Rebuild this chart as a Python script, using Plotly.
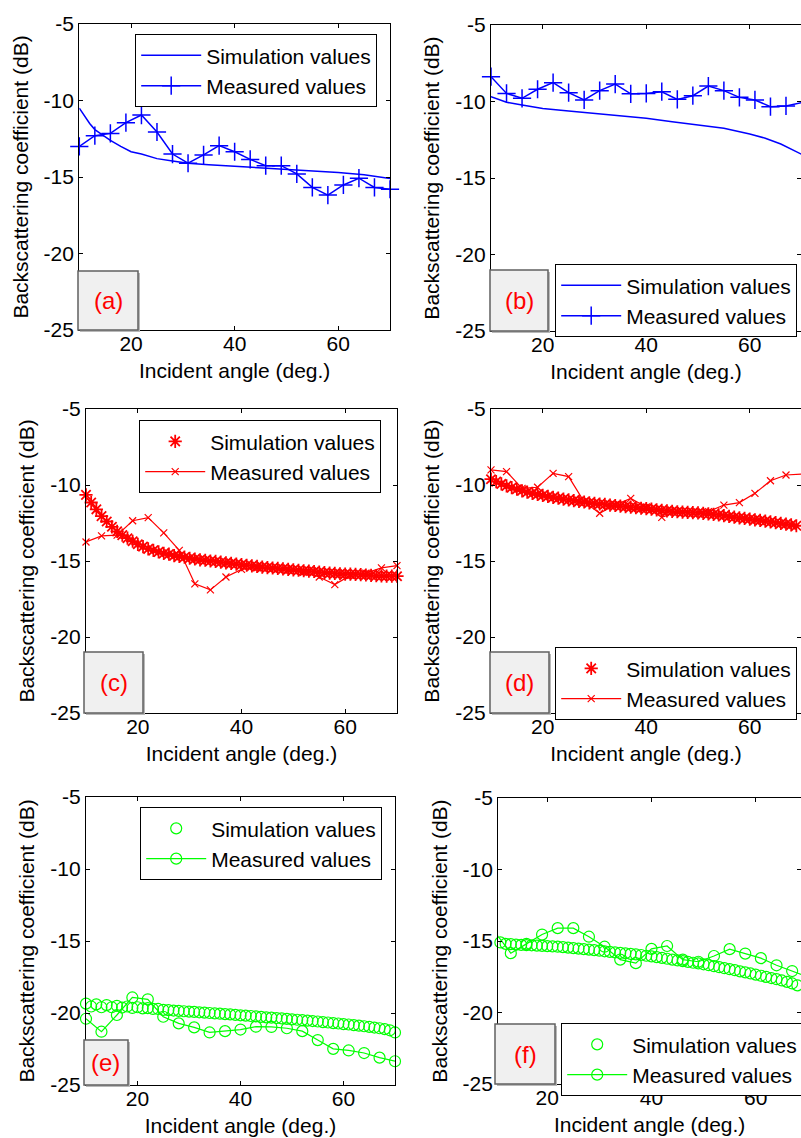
import plotly.graph_objects as go

W, H = 801, 1138
FONT = "Arial, Liberation Sans, sans-serif"

# ---------------- data ----------------
x_ticks = [20, 40, 60]
y_ticks = [-25, -20, -15, -10, -5]
y_tick_text = ["-25", "-20", "-15", "-10", "-5"]

meas_angle = [10, 13, 16, 19, 22, 25, 28, 31, 34, 37, 40, 43, 46, 49, 52, 55, 58, 61, 64, 67, 70]
sim_angle = list(range(10, 71))

a_sim_angle = [10, 11, 12, 13, 14, 15, 16, 18, 20, 22, 25, 28, 31, 35, 40, 45, 50, 55, 60, 65, 70]
a_sim = [-10.5, -11.0, -11.5, -11.9, -12.15, -12.4, -12.6, -13.0, -13.35, -13.5, -13.8, -13.95,
         -14.1, -14.2, -14.3, -14.4, -14.5, -14.6, -14.7, -14.85, -15.1]
a_meas = [-13.0, -12.3, -12.15, -11.45, -10.95, -12.06, -13.5, -14.1, -13.56, -12.95, -13.35,
          -13.85, -14.26, -14.26, -14.8, -15.68, -16.18, -15.52, -15.08, -15.68, -15.8]

b_sim_angle = [10, 13, 16, 20, 25, 30, 35, 40, 45, 50, 55, 60, 63, 66, 70]
b_sim = [-9.68, -10.05, -10.23, -10.45, -10.62, -10.77, -10.93, -11.1, -11.32, -11.54, -11.75,
         -12.12, -12.4, -12.78, -13.45]
b_meas = [-8.38, -9.47, -9.79, -9.2, -8.77, -9.42, -9.9, -9.29, -8.86, -9.5, -9.47, -9.36,
          -9.86, -9.62, -8.99, -9.29, -9.73, -9.9, -10.34, -10.29, -10.08]

c_sim = [-10.65, -11.15, -11.6, -12.05, -12.4, -12.75, -13.05, -13.3, -13.5, -13.7, -13.9,
         -14.05, -14.2, -14.3, -14.4, -14.5, -14.55, -14.65, -14.7, -14.75, -14.82, -14.87,
         -14.92, -14.95, -15.0, -15.03, -15.08, -15.12, -15.16, -15.2, -15.24, -15.28, -15.32,
         -15.36, -15.4, -15.43, -15.46, -15.49, -15.52, -15.55, -15.58, -15.61, -15.64, -15.66,
         -15.69, -15.73, -15.77, -15.8, -15.82, -15.84, -15.86, -15.87, -15.88, -15.9, -15.92,
         -15.94, -15.97, -15.98, -15.99, -16.0, -16.0]
c_meas = [-13.75, -13.35, -13.3, -12.35, -12.15, -13.15, -14.3, -16.5, -16.9, -16.05, -15.55,
          -15.45, -15.5, -15.6, -15.75, -16.05, -16.55, -15.95, -15.8, -15.45, -15.3]

d_sim = [-9.62, -9.78, -9.93, -10.06, -10.17, -10.28, -10.38, -10.47, -10.55, -10.62, -10.68,
         -10.75, -10.81, -10.87, -10.93, -10.98, -11.03, -11.08, -11.12, -11.17, -11.21, -11.25,
         -11.28, -11.32, -11.35, -11.39, -11.42, -11.46, -11.49, -11.53, -11.56, -11.59, -11.63,
         -11.66, -11.7, -11.73, -11.76, -11.78, -11.8, -11.82, -11.84, -11.87, -11.9, -11.93,
         -11.97, -12.02, -12.07, -12.12, -12.16, -12.2, -12.24, -12.29, -12.33, -12.38, -12.43,
         -12.48, -12.53, -12.57, -12.62, -12.68, -12.74]
d_meas = [-9.0, -9.12, -10.22, -10.15, -9.23, -9.45, -11.1, -11.86, -11.3, -10.88, -11.45,
          -12.13, -11.75, -11.8, -11.75, -11.32, -11.16, -10.55, -9.72, -9.34, -9.28]

e_sim = [-19.35, -19.55, -19.4, -19.6, -19.45, -19.6, -19.5, -19.62, -19.55, -19.65, -19.6,
         -19.68, -19.66, -19.72, -19.72, -19.78, -19.8, -19.83, -19.85, -19.88, -19.9, -19.92,
         -19.95, -19.97, -20.0, -20.03, -20.05, -20.08, -20.1, -20.13, -20.16, -20.18, -20.21,
         -20.24, -20.27, -20.3, -20.32, -20.35, -20.38, -20.41, -20.44, -20.47, -20.5, -20.53,
         -20.56, -20.59, -20.63, -20.66, -20.7, -20.73, -20.77, -20.8, -20.84, -20.88, -20.92,
         -20.96, -21.01, -21.06, -21.12, -21.2, -21.35]
e_meas = [-20.4, -21.3, -20.14, -18.92, -19.05, -20.26, -20.72, -21.0, -21.35, -21.26, -21.15,
          -20.95, -20.97, -21.06, -21.26, -21.88, -22.49, -22.6, -22.78, -23.1, -23.35]

f_sim = [-15.0, -15.1, -15.2, -15.22, -15.25, -15.27, -15.29, -15.3, -15.32, -15.34, -15.36,
         -15.38, -15.4, -15.43, -15.46, -15.5, -15.53, -15.57, -15.6, -15.64, -15.68, -15.72,
         -15.76, -15.8, -15.83, -15.86, -15.9, -15.94, -15.98, -16.03, -16.08, -16.13, -16.18,
         -16.24, -16.3, -16.36, -16.41, -16.46, -16.52, -16.57, -16.63, -16.69, -16.76, -16.83,
         -16.9, -16.97, -17.04, -17.12, -17.19, -17.27, -17.35, -17.43, -17.51, -17.59, -17.67,
         -17.76, -17.86, -17.97, -18.1, -18.25, -18.4]
f_meas = [-14.4, -15.85, -15.2, -14.55, -14.1, -14.1, -14.7, -15.4, -16.3, -16.55, -15.55,
          -15.35, -16.3, -16.45, -16.05, -15.57, -15.88, -16.2, -16.7, -17.1, -17.5]

panel_labels = ["(a)", "(b)", "(c)", "(d)", "(e)", "(f)"]
sim_name = "Simulation values"
meas_name = "Measured values"
x_title = "Incident angle (deg.)"
y_title = "Backscattering coefficient (dB)"

# ---------------- layout geometry (pixels) ----------------
panels = [
    dict(dx=(79.3, 390), dy=(24, 330), rng=(10, 70), leg=(135, 34), box=(78, 271, 138, 330)),
    dict(dx=(491, 801), dy=(25, 331), rng=(10, 69.9), leg=(555, 264), box=(490, 270, 548, 331)),
    dict(dx=(86, 397), dy=(409, 713), rng=(10, 70), leg=(139, 420), box=(84, 652, 143, 713)),
    dict(dx=(491, 801), dy=(409, 713), rng=(10, 69.9), leg=(555, 647), box=(490, 652, 549, 713)),
    dict(dx=(86, 395), dy=(797, 1085), rng=(10, 70), leg=(140, 807), box=(84, 1040, 128, 1085)),
    dict(dx=(498.3, 801), dy=(798, 1084), rng=(10.6, 68.7), leg=(561, 1023), box=(495, 1024, 555, 1084)),
]

BLUE, RED, GREEN = "#0000ff", "#ff0000", "#00ff00"
series = [
    (a_sim_angle, a_sim, a_meas, BLUE, "a"),
    (b_sim_angle, b_sim, b_meas, BLUE, "a"),
    (sim_angle, c_sim, c_meas, RED, "c"),
    (sim_angle, d_sim, d_meas, RED, "c"),
    (sim_angle, e_sim, e_meas, GREEN, "e"),
    (sim_angle, f_sim, f_meas, GREEN, "e"),
]

fig = go.Figure()
layout = dict(
    width=W, height=H,
    margin=dict(l=0, r=0, t=0, b=0, autoexpand=False),
    paper_bgcolor="white", plot_bgcolor="white",
    font=dict(family=FONT, color="black", size=21),
    showlegend=True,
)
shapes = []
annotations = []

for i, (p, s) in enumerate(zip(panels, series)):
    n = "" if i == 0 else str(i + 1)
    xa, ya = "x" + n, "y" + n
    lg = "legend" + n
    sx, sy, my, col, style = s
    if style == "a":
        sim_tr = go.Scatter(x=sx, y=sy, mode="lines", name=sim_name,
                            line=dict(color=col, width=1.5))
        meas_tr = go.Scatter(x=meas_angle, y=my, mode="lines+markers", name=meas_name,
                             line=dict(color=col, width=1.5),
                             marker=dict(symbol="cross-thin-open", size=13, color=col,
                                         line=dict(color=col, width=1.5)))
    elif style == "c":
        sim_tr = go.Scatter(x=sx, y=sy, mode="markers", name=sim_name,
                            marker=dict(symbol="asterisk-open", size=11, color=col,
                                        line=dict(color=col, width=1.8)))
        meas_tr = go.Scatter(x=meas_angle, y=my, mode="lines+markers", name=meas_name,
                             line=dict(color=col, width=1.2),
                             marker=dict(symbol="x-thin-open", size=7, color=col,
                                         line=dict(color=col, width=1.2)))
    else:
        sim_tr = go.Scatter(x=sx, y=sy, mode="markers", name=sim_name,
                            marker=dict(symbol="circle-open", size=11, color=col,
                                        line=dict(color=col, width=1.2)))
        meas_tr = go.Scatter(x=meas_angle, y=my, mode="lines+markers", name=meas_name,
                             line=dict(color=col, width=1.2),
                             marker=dict(symbol="circle-open", size=11, color=col,
                                         line=dict(color=col, width=1.2)))
    for tr in (sim_tr, meas_tr):
        tr.update(xaxis=xa, yaxis=ya, legend=lg, cliponaxis=False)
        fig.add_trace(tr)

    x0, x1 = p["dx"]
    y0, y1 = p["dy"]
    axis_common = dict(showline=True, linecolor="black", linewidth=1.3, mirror="ticks",
                       ticks="inside", ticklen=4, tickwidth=1, tickcolor="black",
                       showgrid=False, zeroline=False,
                       tickfont=dict(size=21, family=FONT, color="black"))
    layout["xaxis" + n] = dict(domain=[x0 / W, x1 / W], range=list(p["rng"]), anchor=ya,
                               tickvals=x_ticks, ticktext=[str(v) for v in x_ticks],
                               ticklabelstandoff=-5,
                               title=dict(text=x_title, font=dict(size=21, family=FONT), standoff=8),
                               **axis_common)
    layout["yaxis" + n] = dict(domain=[1 - y1 / H, 1 - y0 / H], range=[-25, -5], anchor=xa,
                               tickvals=y_ticks, ticktext=y_tick_text,
                               title=dict(text=y_title, font=dict(size=21, family=FONT), standoff=9),
                               **axis_common)
    lx, ly = p["leg"]
    layout[lg] = dict(x=lx / W, y=1 - ly / H, xanchor="left", yanchor="top",
                      xref="paper", yref="paper",
                      bgcolor="white", bordercolor="black", borderwidth=1.2,
                      font=dict(size=21, family=FONT, color="black"),
                      itemwidth=60, tracegroupgap=0)
    bx0, by0, bx1, by1 = p["box"]
    shapes.append(dict(type="rect", xref="paper", yref="paper", layer="above",
                       x0=(bx0 + 2) / W, x1=(bx1 + 2) / W, y0=1 - (by1 + 2) / H, y1=1 - (by0 + 2) / H,
                       line=dict(width=0), fillcolor="#b8b8b8"))
    shapes.append(dict(type="rect", xref="paper", yref="paper", layer="above",
                       x0=bx0 / W, x1=bx1 / W, y0=1 - by1 / H, y1=1 - by0 / H,
                       line=dict(color="#606060", width=1.5), fillcolor="#f0f0f0"))
    annotations.append(dict(text=panel_labels[i], xref="paper", yref="paper",
                            x=(bx0 + bx1) / 2 / W, y=1 - (by0 + by1) / 2 / H,
                            xanchor="center", yanchor="middle", showarrow=False,
                            font=dict(size=24, color="#ff0000", family=FONT)))

layout["shapes"] = shapes
layout["annotations"] = annotations
fig.update_layout(**layout)
fig.write_html("out.html",
               config={"displayModeBar": False},
               post_script="document.body.style.margin='0px';document.body.style.padding='0px';")
